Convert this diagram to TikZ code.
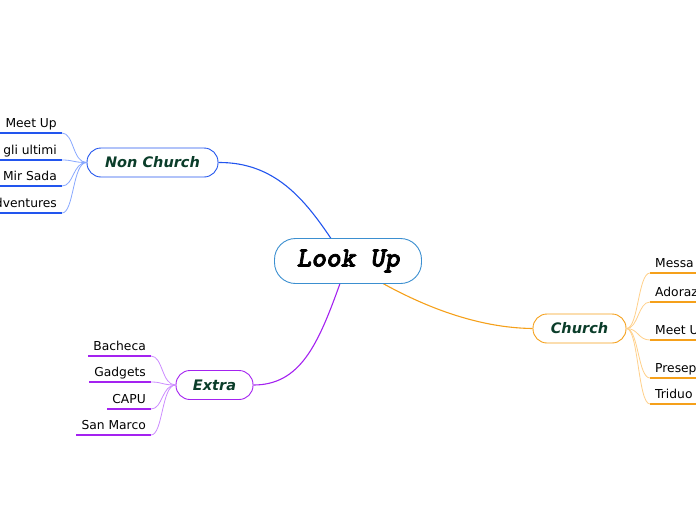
\documentclass[tikz,border=0pt]{standalone}
\usetikzlibrary{calc,backgrounds}
\usepackage{fontspec}
\setmainfont{DejaVu Sans}
\newfontfamily\monofam{lmmonolt10-boldoblique}[Extension=.otf, FakeBold=2.5]
\definecolor{txtgreen}{HTML}{0B3D2A}
\definecolor{cblue}{HTML}{3B8FD0}
\definecolor{nblue}{HTML}{2255EE}
\definecolor{nbluel}{HTML}{88A8FF}
\definecolor{corange}{HTML}{F5A01A}
\definecolor{corangel}{HTML}{FFD08A}
\definecolor{epurple}{HTML}{A422F0}
\definecolor{epurplel}{HTML}{CC8CFF}
\tikzset{
  mainbox/.style={draw=cblue, line width=0.9pt, fill=white, rounded corners=21pt,
    minimum width=147pt, minimum height=45pt, inner sep=0pt,
    font=\monofam\fontsize{28}{28}\selectfont},
  topic/.style={draw=#1, line width=0.9pt, fill=white, rounded corners=14pt,
    minimum height=29pt, inner sep=0pt, text=txtgreen,
    font=\fontsize{14.5}{15}\selectfont\bfseries\itshape},
  leaf/.style={inner xsep=5pt, inner ysep=2pt, text height=9pt, text depth=3pt,
    font=\fontsize{12.3}{13}\selectfont, text=black},
  uline/.style={draw=#1, line width=1.8pt},
  thin/.style={draw=#1, line width=0.8pt},
  conn/.style={draw=#1, line width=1.1pt},
}
\begin{document}
\begin{tikzpicture}[x=1pt,y=-1pt]
\useasboundingbox (0,0) rectangle (696,520);
\clip (0,0) rectangle (696,520);
\node[mainbox] (main) at (348,261) {Look Up};
\node[topic=nblue, minimum width=131pt] (nc) at (152.5,162.5) {Non Church};
\node[topic=corange, minimum width=93pt] (ch) at (579.5,328.5) {Church};
\node[topic=epurple, minimum width=77pt] (ex) at (214.5,385) {Extra};
\begin{scope}[on background layer]
\draw[conn=nblue] (nc.east) .. controls (275,162) and (305,200) .. (331,238.5);
\draw[conn=corange] (383,283.5) .. controls (440,315) and (490,328) .. (ch.west);
\draw[conn=epurple] (340,283.5) .. controls (318,345) and (300,385) .. (ex.east);
\end{scope}
% Non Church leaves
\node[leaf, anchor=south east] (n1) at (62,133) {Meet Up};
\node[leaf, anchor=south east] (n2) at (62,160) {gli ultimi};
\node[leaf, anchor=south east] (n3) at (62,186) {Mir Sada};
\node[leaf, anchor=south east] (n4) at (62,213) {Adventures};
\foreach \n in {n1,n2,n3,n4}{
  \draw[uline=nblue] (\n.south west) -- (\n.south east);
  \draw[thin=nbluel] (nc.west) .. controls ($(nc.west)+(-14,0)$) and ($(\n.south east)+(12,0)$) .. (\n.south east);
}
% Church leaves
\node[leaf, anchor=south west] (c1) at (650,273) {Messa};
\node[leaf, anchor=south west] (c2) at (650,302) {Adorazione};
\node[leaf, anchor=south west] (c3) at (650,340) {Meet Up};
\node[leaf, anchor=south west] (c4) at (650,378) {Presepe};
\node[leaf, anchor=south west] (c5) at (650,404) {Triduo};
\foreach \n in {c1,c2,c3,c4,c5}{
  \draw[uline=corange] (\n.south west) -- ++(60,0);
  \draw[thin=corangel] (ch.east) .. controls ($(ch.east)+(12,0)$) and ($(\n.south west)+(-12,0)$) .. (\n.south west);
}
% Extra leaves
\node[leaf, anchor=south east] (e1) at (151,356) {Bacheca};
\node[leaf, anchor=south east] (e2) at (151,382) {Gadgets};
\node[leaf, anchor=south east] (e3) at (151,409) {CAPU};
\node[leaf, anchor=south east] (e4) at (151,435) {San Marco};
\foreach \n in {e1,e2,e3,e4}{
  \draw[uline=epurple] (\n.south west) -- (\n.south east);
  \draw[thin=epurplel] (ex.west) .. controls ($(ex.west)+(-14,0)$) and ($(\n.south east)+(12,0)$) .. (\n.south east);
}
\end{tikzpicture}
\end{document}
